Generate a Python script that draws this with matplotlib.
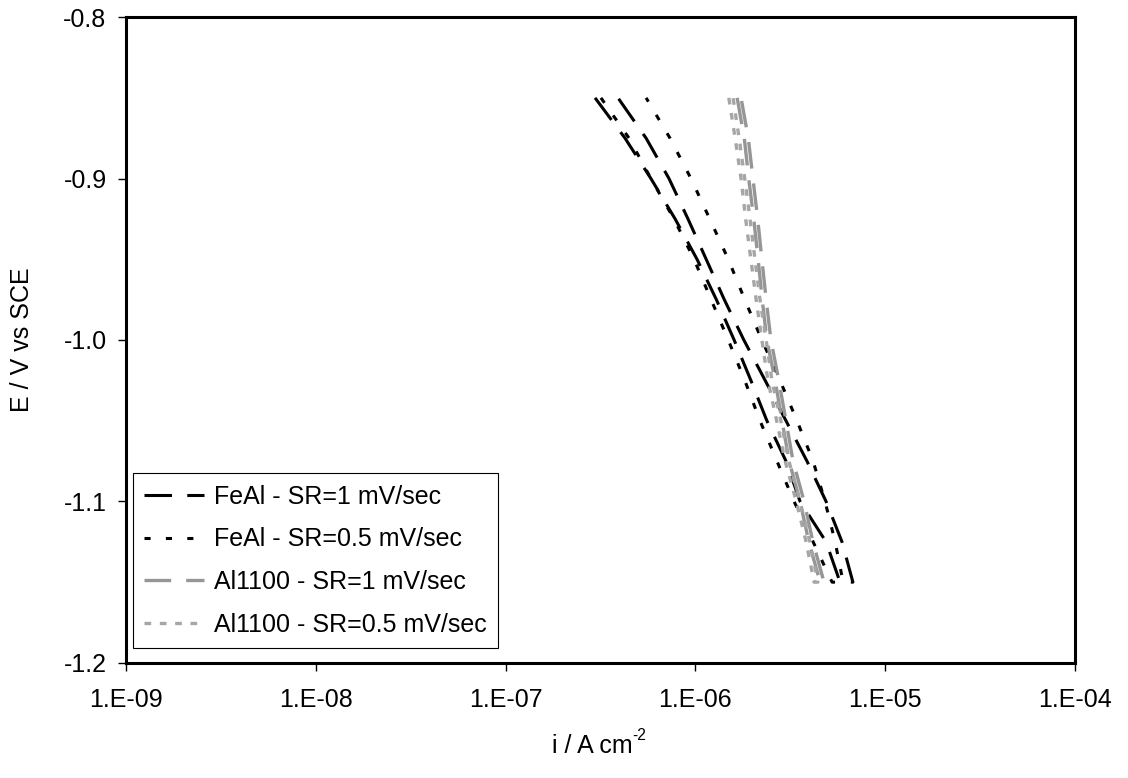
import matplotlib
matplotlib.use("Agg")
import matplotlib.pyplot as plt
from matplotlib.ticker import FixedLocator, FuncFormatter, NullLocator
import numpy as np

plt.rcParams["font.family"] = ["Liberation Sans", "DejaVu Sans"]
plt.rcParams["axes.unicode_minus"] = False

# potential steps of the cathodic scan (V vs SCE), top to bottom
E_SCAN = [-0.85, -0.875, -0.90, -0.925, -0.95, -0.975, -1.00,
          -1.025, -1.05, -1.075, -1.10, -1.125, -1.15]

# current density (A cm-2): forward branch (down) and return branch (up)
FEAL_1_DOWN = [2.96e-7, 4.26e-7, 5.83e-7, 7.82e-7, 1.02e-6, 1.29e-6, 1.60e-6,
               1.96e-6, 2.38e-6, 3.00e-6, 3.56e-6, 4.88e-6, 5.78e-6]
FEAL_1_UP = [3.91e-7, 5.50e-7, 7.26e-7, 9.14e-7, 1.14e-6, 1.42e-6, 1.80e-6,
             2.33e-6, 3.00e-6, 3.87e-6, 4.88e-6, 5.92e-6, 6.76e-6]

FEAL_05_DOWN = [3.18e-7, 4.47e-7, 5.83e-7, 7.71e-7, 9.84e-7, 1.21e-6, 1.49e-6,
                1.82e-6, 2.19e-6, 2.69e-6, 3.31e-6, 4.17e-6, 5.25e-6]
FEAL_05_UP = [5.50e-7, 7.35e-7, 9.48e-7, 1.19e-6, 1.49e-6, 1.82e-6, 2.24e-6,
              2.79e-6, 3.43e-6, 4.17e-6, 4.82e-6, 5.45e-6, 6.00e-6]

AL_1_DOWN = [1.66e-6, 1.81e-6, 1.91e-6, 2.03e-6, 2.14e-6, 2.25e-6, 2.38e-6,
             2.63e-6, 2.86e-6, 3.12e-6, 3.56e-6, 3.96e-6, 4.54e-6]
AL_1_UP = [1.74e-6, 1.90e-6, 2.01e-6, 2.13e-6, 2.24e-6, 2.36e-6, 2.50e-6,
           2.75e-6, 3.00e-6, 3.27e-6, 3.74e-6, 4.16e-6, 4.76e-6]

AL_05_DOWN = [1.50e-6, 1.62e-6, 1.74e-6, 1.84e-6, 1.96e-6, 2.09e-6, 2.24e-6,
              2.41e-6, 2.68e-6, 2.97e-6, 3.40e-6, 3.83e-6, 4.22e-6]
AL_05_UP = [1.58e-6, 1.70e-6, 1.82e-6, 1.94e-6, 2.06e-6, 2.19e-6, 2.36e-6,
            2.53e-6, 2.82e-6, 3.11e-6, 3.56e-6, 4.01e-6, 4.42e-6]

LABELS = ["FeAl - SR=1 mV/sec", "FeAl - SR=0.5 mV/sec",
          "Al1100 - SR=1 mV/sec", "Al1100 - SR=0.5 mV/sec"]

SERIES = [
    (FEAL_1_DOWN, FEAL_1_UP, "black", 2.2, (9, 5)),
    (FEAL_05_DOWN, FEAL_05_UP, "black", 2.2, (2, 5)),
    (AL_1_DOWN, AL_1_UP, "#969696", 2.4, (8, 4.5)),
    (AL_05_DOWN, AL_05_UP, "#a6a6a6", 2.4, (2, 2.6)),
]

FS = 18

fig = plt.figure(figsize=(11.28, 7.78), dpi=100)
ax = fig.add_axes([0.1117, 0.148, 0.8413, 0.830])

e_loop = E_SCAN + E_SCAN[::-1]
for (down, up, color, lw, dash), label in zip(SERIES, LABELS):
    i_loop = down + up[::-1]
    ax.plot(i_loop, e_loop, color=color, lw=lw, dashes=dash,
            dash_capstyle="butt", label=label)

ax.set_xscale("log")
ax.set_xlim(1e-9, 1e-4)
ax.set_ylim(-1.2, -0.8)

ax.xaxis.set_major_locator(FixedLocator([1e-9, 1e-8, 1e-7, 1e-6, 1e-5, 1e-4]))
ax.xaxis.set_minor_locator(NullLocator())
ax.xaxis.set_major_formatter(
    FuncFormatter(lambda v, _: f"1.E{int(round(np.log10(v))):+03d}"))
ax.yaxis.set_major_locator(FixedLocator([-1.2, -1.1, -1.0, -0.9, -0.8]))
ax.yaxis.set_major_formatter(FuncFormatter(lambda v, _: f"{v:.1f}"))

ax.tick_params(axis="both", which="major", direction="out", length=6,
               width=1, labelsize=FS, pad=8)
ax.tick_params(axis="x", pad=12)
ax.tick_params(top=False, right=False)
for sp in ax.spines.values():
    sp.set_linewidth(2.2)

# x title drawn as two texts so the exponent keeps a plain hyphen
xt = fig.text(0.525, 0.032, "i / A cm", ha="center", va="baseline",
              fontsize=FS)
ax.annotate("-2", xy=(1.0, 0.62), xycoords=xt, ha="left", va="bottom",
            fontsize=FS * 0.62)
ax.set_ylabel("E / V vs SCE", fontsize=FS, labelpad=21)

leg = ax.legend(loc="lower left", bbox_to_anchor=(0.0074, 0.023),
                fontsize=FS, frameon=True, fancybox=False, shadow=False,
                handlelength=2.4, handletextpad=0.4, labelspacing=0.75,
                borderpad=0.45, borderaxespad=0)
leg.get_frame().set_edgecolor("black")
leg.get_frame().set_linewidth(0.8)
leg.get_frame().set_alpha(1)

fig.savefig("out.png", dpi=100)
